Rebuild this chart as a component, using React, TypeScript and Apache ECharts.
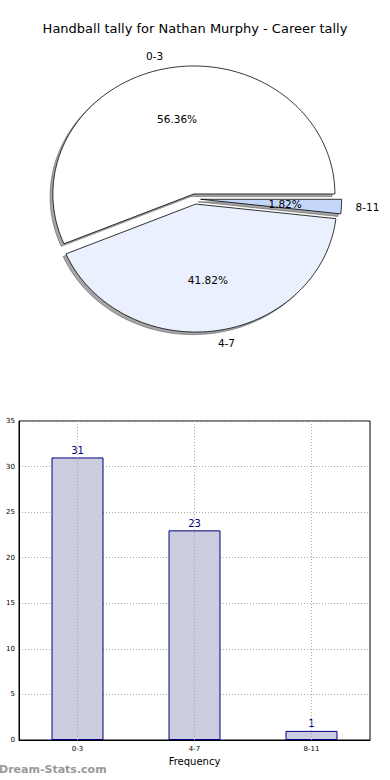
import React, { useEffect, useRef } from "react";
import * as echarts from "echarts";

const TITLE = "Handball tally for Nathan Murphy - Career tally";
const categories = ["0-3", "4-7", "8-11"];
const tallyValues = [31, 23, 1];
const pieColors = ["#ffffff", "#eaf0fd", "#c4d7fa"];
const explode = [0.04, 0.04, 0.04];
const yTickMax = 35;
const yTickStep = 5;
const xAxisName = "Frequency";
const yAxisName = "Games Played";
const WATERMARK = "Dream-Stats.com";

const FONT = "DejaVu Sans, Verdana, sans-serif";
// pie layout (elliptical, like a squashed matplotlib axes)
const CX = 195;
const CY = 199;
const RX = 141;
const RY = 128;

const total = tallyValues.reduce((a, b) => a + b, 0);
const startFrac: number[] = [];
{
  let acc = 0;
  for (const v of tallyValues) {
    startFrac.push(acc);
    acc += v / total;
  }
}

function wedge(i: number, dx: number, dy: number) {
  const a0 = startFrac[i] * 2 * Math.PI;
  const a1 = (startFrac[i] + tallyValues[i] / total) * 2 * Math.PI;
  const mid = (a0 + a1) / 2;
  const cx = CX + explode[i] * RX * Math.cos(mid) + dx;
  const cy = CY - explode[i] * RY * Math.sin(mid) + dy;
  const pts: number[][] = [[cx, cy]];
  const n = Math.max(3, Math.ceil(((a1 - a0) * 180) / Math.PI));
  for (let k = 0; k <= n; k++) {
    const a = a0 + ((a1 - a0) * k) / n;
    pts.push([cx + RX * Math.cos(a), cy - RY * Math.sin(a)]);
  }
  return { pts, cx, cy, mid };
}

export default function App() {
  const ref = useRef<HTMLDivElement>(null);
  useEffect(() => {
    document.body.style.margin = "0";
    if (!ref.current) return;
    const chart = echarts.init(ref.current, null, { renderer: "svg" });
    const pieData = tallyValues.map((v, i) => [i, v]);
    chart.setOption({
      animation: false,
      backgroundColor: "#ffffff",
      textStyle: { fontFamily: FONT },
      title: {
        text: TITLE,
        left: "center",
        top: 22,
        padding: 0,
        textStyle: { fontSize: 13, fontWeight: "normal", color: "#000", fontFamily: FONT },
      },
      grid: {
        left: 19,
        right: 20,
        top: 421,
        bottom: 40,
        containLabel: false,
        outerBoundsMode: "none",
        show: true,
        borderColor: "#000",
        borderWidth: 1,
        backgroundColor: "transparent",
      },
      xAxis: {
        type: "category",
        data: categories,
        z: 3,
        name: xAxisName,
        nameLocation: "middle",
        nameGap: 16,
        nameTextStyle: { fontSize: 10, color: "#000", fontFamily: FONT },
        axisLine: { show: true, lineStyle: { color: "#000", width: 1 } },
        axisTick: { show: false, alignWithLabel: true },
        axisLabel: { fontSize: 7, color: "#000", margin: 5, fontFamily: FONT },
        splitLine: {
          show: true,
          alignWithLabel: true,
          lineStyle: { color: "#aaaaaa", type: [1, 2], width: 1 },
        },
      },
      yAxis: {
        type: "value",
        min: 0,
        max: yTickMax,
        interval: yTickStep,
        name: yAxisName,
        nameLocation: "middle",
        nameGap: 20,
        nameTextStyle: { fontSize: 10, color: "#000", fontFamily: FONT },
        axisLine: { show: true, lineStyle: { color: "#000", width: 1 } },
        axisTick: { show: false },
        axisLabel: { fontSize: 7, color: "#000", margin: 4, fontFamily: FONT },
        splitLine: {
          show: true,
          lineStyle: { color: "#aaaaaa", type: [1, 2], width: 1 },
        },
      },
      graphic: [
        {
          type: "text",
          left: -1,
          top: 764,
          style: {
            text: WATERMARK,
            fill: "#999999",
            font: `bold 11px ${FONT}`,
          },
        },
      ],
      series: [
        {
          type: "custom",
          coordinateSystem: "none",
          z: 1,
          data: pieData,
          renderItem: (params: any) => {
            const i = params.dataIndex;
            const w = wedge(i, -0.02 * RX, 0.02 * RY);
            return {
              type: "polygon",
              shape: { points: w.pts },
              style: { fill: "rgba(77,77,77,0.5)", stroke: "rgba(77,77,77,0.5)", lineWidth: 1 },
            };
          },
        },
        {
          type: "custom",
          coordinateSystem: "none",
          z: 2,
          data: pieData,
          renderItem: (params: any) => {
            const i = params.dataIndex;
            const w = wedge(i, 0, 0);
            const cosM = Math.cos(w.mid);
            const sinM = Math.sin(w.mid);
            const lx = w.cx + 1.1 * RX * cosM;
            const ly = w.cy - 1.1 * RY * sinM;
            const px = w.cx + 0.6 * RX * cosM;
            const py = w.cy - 0.6 * RY * sinM;
            const pct = ((tallyValues[i] / total) * 100).toFixed(2) + "%";
            return {
              type: "group",
              children: [
                {
                  type: "polygon",
                  shape: { points: w.pts },
                  style: { fill: pieColors[i], stroke: "#000", lineWidth: 0.8 },
                },
                {
                  type: "text",
                  x: lx,
                  y: ly,
                  style: {
                    text: categories[i],
                    fill: "#000",
                    fontSize: 10.5,
                    fontFamily: FONT,
                    align: cosM < 0 ? "right" : "left",
                    verticalAlign: "middle",
                  },
                },
                {
                  type: "text",
                  x: px,
                  y: py,
                  style: {
                    text: pct,
                    fill: "#000",
                    fontSize: 10.5,
                    fontFamily: FONT,
                    align: "center",
                    verticalAlign: "middle",
                  },
                },
              ],
            };
          },
        },
        {
          type: "bar",
          data: tallyValues,
          barWidth: 52,
          z: 2,
          itemStyle: { color: "#ccccdf", borderColor: "#000080", borderWidth: 1 },
          label: {
            show: true,
            position: "top",
            distance: 2,
            color: "#000080",
            fontSize: 10,
            fontFamily: FONT,
          },
        },
      ],
    });
    return () => chart.dispose();
  }, []);
  return <div ref={ref} style={{ width: 390, height: 780 }} />;
}
